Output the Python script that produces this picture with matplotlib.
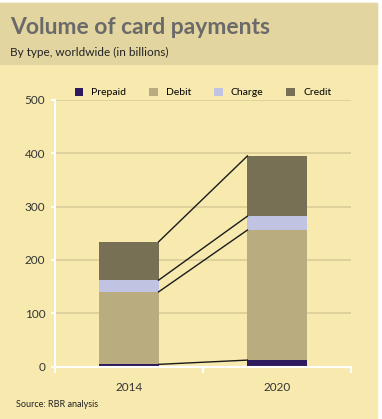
import matplotlib.pyplot as plt
from matplotlib.patches import Rectangle
import numpy as np

plt.rcParams['font.family'] = ['Lato', 'DejaVu Sans']

years = ['2014', '2020']
series = ['Prepaid', 'Debit', 'Charge', 'Credit']
prepaid = [4, 12]
debit = [136, 244]
charge = [22, 26]
credit = [72, 113]
colors = ['#2E1B5F', '#B9AC7E', '#C0C4E2', '#787055']

W, H = 382, 419
fig = plt.figure(figsize=(W / 100, H / 100), dpi=100, facecolor='white')

# panel background and header band
fig.patches.append(Rectangle((0, 0), 377 / W, 1 - 3 / H, transform=fig.transFigure,
                             color='#F8EAAF', zorder=-2))
fig.patches.append(Rectangle((0, 1 - 64 / H), 377 / W, 61 / H, transform=fig.transFigure,
                             color='#E3D5A0', zorder=-1))

fig.text(10 / W, 1 - 27 / H, 'Volume of card payments', fontsize=16.5, fontweight='bold',
         color='#6A6A6A', va='center', ha='left')
fig.text(10 / W, 1 - 52 / H, 'By type, worldwide (in billions)', fontsize=8.5,
         color='#222222', va='center', ha='left')
fig.text(16 / W, 1 - 404 / H, 'Source: RBR analysis', fontsize=6.5,
         color='#222222', va='center', ha='left')

ax = fig.add_axes([55 / W, 1 - 366.5 / H, 296 / W, 266.5 / H])
ax.set_facecolor('none')

x = np.arange(len(years))
width = 0.4
bottom = np.zeros(len(years))
tops = []
for name, vals, c in zip(series, [prepaid, debit, charge, credit], colors):
    ax.bar(x, vals, width, bottom=bottom, color=c, label=name, zorder=3)
    bottom = bottom + np.array(vals)
    tops.append(bottom.copy())

# connector lines between segment tops
for t in tops:
    ax.plot([x[0] + width / 2, x[1] - width / 2], [t[0], t[1]],
            color='#1A1A1A', lw=1, zorder=4)

ax.set_xlim(-0.5, 1.5)
ax.set_ylim(0, 500)
ax.set_yticks([0, 100, 200, 300, 400, 500])
ax.set_xticks(x)
ax.set_xticklabels(years)
ax.set_xticks([-0.5, 0.5, 1.5], minor=True)
ax.tick_params(axis='x', which='major', length=0, pad=11, labelsize=8.5, labelcolor='#333333')
ax.tick_params(axis='x', which='minor', length=4, width=1.5, color='white', direction='out')
ax.tick_params(axis='y', length=3, width=1.5, color='white', labelsize=8.5,
               labelcolor='#333333', pad=4)
ax.grid(axis='y', color='#D9CC98', lw=1.2, zorder=1)
for s in ['top', 'right']:
    ax.spines[s].set_visible(False)
for s in ['left', 'bottom']:
    ax.spines[s].set_color('white')
    ax.spines[s].set_linewidth(1.5)
    ax.spines[s].set_zorder(5)

ax.legend(loc='lower center', bbox_to_anchor=(0.5, 0.995), ncol=4, frameon=False,
          fontsize=7.5, handlelength=0.8, handleheight=0.8, handletextpad=0.8,
          columnspacing=2.2, borderaxespad=0)

fig.savefig('out.png', dpi=100, facecolor=fig.get_facecolor())
